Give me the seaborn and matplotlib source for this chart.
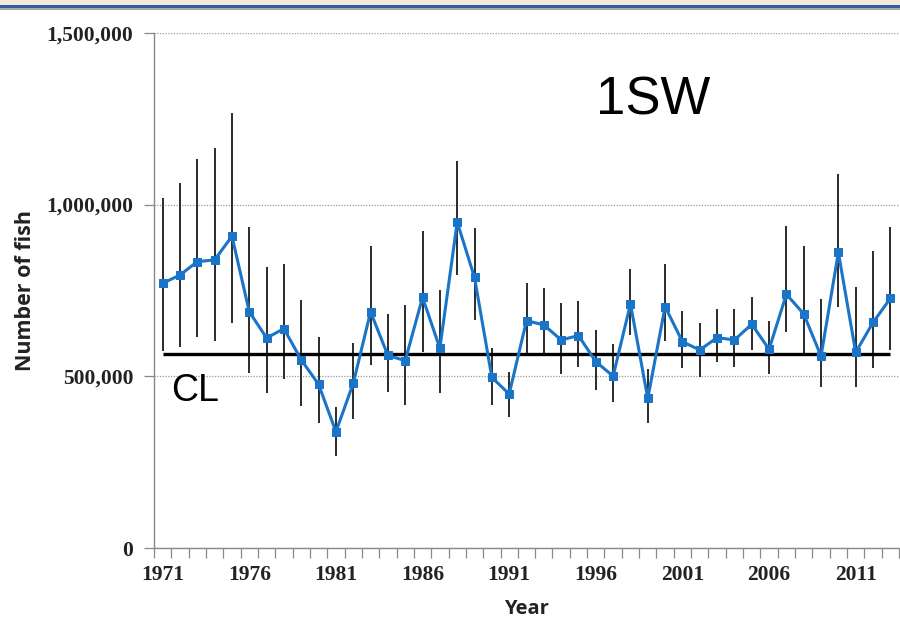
import matplotlib
matplotlib.use("Agg")
import matplotlib.pyplot as plt
from matplotlib.patches import Rectangle
import seaborn as sns
import pandas as pd
import numpy as np

years = list(range(1971, 2014))
estimate = [771000, 795000, 834000, 839000, 908000, 688000, 612000, 639000, 548000, 477000,
            339000, 480000, 688000, 561000, 546000, 730000, 582000, 949000, 788000, 497000,
            449000, 662000, 650000, 606000, 619000, 543000, 501000, 711000, 436000, 703000,
            601000, 577000, 613000, 606000, 652000, 579000, 739000, 682000, 559000, 861000,
            570000, 657000, 727000]
lower = [575000, 586000, 614000, 604000, 656000, 511000, 453000, 492000, 414000, 365000,
         268000, 375000, 533000, 456000, 417000, 572000, 451000, 795000, 664000, 417000,
         383000, 562000, 562000, 507000, 528000, 460000, 427000, 620000, 364000, 604000,
         524000, 499000, 541000, 527000, 577000, 507000, 628000, 565000, 468000, 703000,
         468000, 524000, 577000]
upper = [1020000, 1062000, 1132000, 1165000, 1265000, 934000, 819000, 827000, 722000, 616000,
         412000, 596000, 879000, 681000, 708000, 923000, 751000, 1128000, 933000, 582000,
         514000, 771000, 758000, 713000, 720000, 635000, 593000, 812000, 521000, 827000,
         691000, 656000, 696000, 696000, 730000, 662000, 938000, 880000, 724000, 1089000,
         761000, 866000, 936000]
conservation_limit = 564000
y_ticks = [0, 500000, 1000000, 1500000]
y_ticklabels = ["0", "500,000", "1,000,000", "1,500,000"]
x_label_years = [1971, 1976, 1981, 1986, 1991, 1996, 2001, 2006, 2011]

df = pd.DataFrame({"pos": np.arange(len(years)), "year": years, "fish": estimate,
                   "lo": lower, "hi": upper})

sns.set_theme(style="white")
fig = plt.figure(figsize=(9.0, 6.22), dpi=100)
ax = fig.add_axes([154 / 900, (622 - 548.3) / 622, 745 / 900, 515.6 / 622])

serif = ["Liberation Serif", "DejaVu Serif"]
sans = ["Open Sans", "DejaVu Sans"]
blue = "#1a74c8"

# error bars
ax.vlines(df["pos"], df["lo"], df["hi"], color="#1a1a1a", linewidth=1.3, zorder=2)
# conservation limit
ax.hlines(conservation_limit, df["pos"].iloc[0], df["pos"].iloc[-1], color="black",
          linewidth=2.4, zorder=3)
sns.lineplot(data=df, x="pos", y="fish", ax=ax, color=blue, linewidth=2.2, marker="s",
             markersize=6, markeredgecolor=blue, zorder=4)

ax.set_xlim(-0.5, len(years) - 0.5)
ax.set_ylim(0, 1500000)

ax.set_yticks(y_ticks)
ax.set_yticklabels(y_ticklabels, fontfamily=serif, fontweight="bold", fontsize=15.5,
                   color="#222222")
ax.yaxis.grid(True, linestyle=(0, (1, 1.2)), color="#9a9a9a", linewidth=0.9)
ax.set_axisbelow(True)
ax.tick_params(axis="y", direction="out", length=7, width=0.9, color="#888888", pad=8, left=True)

major = [years.index(y) for y in x_label_years]
ax.set_xticks(major)
ax.set_xticklabels([str(y) for y in x_label_years], fontfamily=serif, fontweight="bold",
                   fontsize=15.5, color="#222222")
ax.set_xticks(np.arange(-0.5, len(years), 1.0), minor=True)
ax.tick_params(axis="x", which="major", length=0, pad=12)
ax.tick_params(axis="x", which="minor", direction="out", length=7, width=0.9,
               color="#888888", bottom=True)

for s in ["top", "right"]:
    ax.spines[s].set_visible(False)
for s in ["left", "bottom"]:
    ax.spines[s].set_color("#888888")
    ax.spines[s].set_linewidth(1.0)

ax.set_xlabel("Year", fontfamily=sans, fontweight="bold", fontsize=14.5, color="#222222")
ax.xaxis.set_label_coords(0.5, -0.099)
ax.set_ylabel("Number of fish", fontfamily=sans, fontweight="bold", fontsize=15.5,
              color="#222222")
ax.yaxis.set_label_coords(-0.158, 0.5)

ax.text(0.670, 0.868, "1SW", transform=ax.transAxes, fontfamily=["Liberation Sans"],
        fontsize=38, ha="center", va="center", color="black")
ax.text(0.055, 0.305, "CL", transform=ax.transAxes, fontfamily=["Liberation Sans"],
        fontsize=27, ha="center", va="center", color="black")

# top window border strip
fig.add_artist(Rectangle((0, 1 - 5 / 622), 1, 5 / 622, transform=fig.transFigure,
                         facecolor="#f2ead6", edgecolor="none"))
fig.add_artist(Rectangle((0, 1 - 7.5 / 622), 1, 2.5 / 622, transform=fig.transFigure,
                         facecolor="#2f5ea6", edgecolor="none"))
fig.add_artist(Rectangle((0, 1 - 9.5 / 622), 1, 2 / 622, transform=fig.transFigure,
                         facecolor="#a8a8a8", edgecolor="none"))

fig.savefig("out.png", dpi=100)
